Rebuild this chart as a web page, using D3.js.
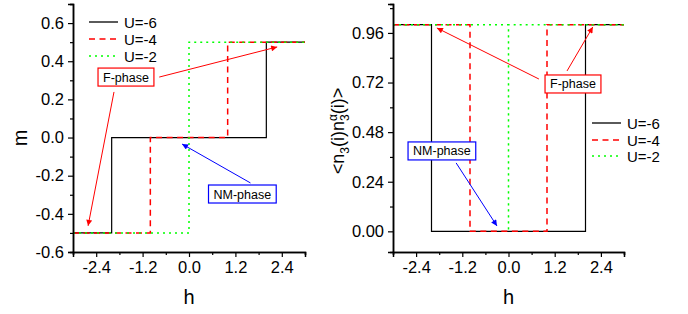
<!DOCTYPE html>
<html>
<head>
<meta charset="utf-8">
<script src="https://cdn.jsdelivr.net/npm/d3@7"></script>
<style>
  body { margin: 0; background: #fff; }
  svg text { font-family: "Liberation Sans", Arial, sans-serif; fill: #000; }
</style>
</head>
<body>
<svg id="chart" width="688" height="314"></svg>
<script>
// data (step curves)
const seriesNames = ["U=-6", "U=-4", "U=-2"];
const mHU6 = [[-3, -0.5], [-2, -0.5], [-2, 0], [2, 0], [2, 0.5], [3, 0.5]];
const mHU4 = [[-3, -0.5], [-1, -0.5], [-1, 0], [1, 0], [1, 0.5], [3, 0.5]];
const mHU2 = [[-3, -0.5], [0, -0.5], [0, 0.5], [3, 0.5]];
const nnU6 = [[-3, 1], [-2, 1], [-2, 0], [2, 0], [2, 1], [3, 1]];
const nnU4 = [[-3, 1], [-1, 1], [-1, 0], [1, 0], [1, 1], [3, 1]];
const nnU2 = [[-3, 1], [0, 1], [0, 0], [0, 1], [3, 1]];

// tick labels
const xTicks = [-2.4, -1.2, 0.0, 1.2, 2.4];
const xMinor = [-3.0, -1.8, -0.6, 0.6, 1.8, 3.0];
const mTicks = [-0.6, -0.4, -0.2, 0.0, 0.2, 0.4, 0.6];
const mMinor = [-0.5, -0.3, -0.1, 0.1, 0.3, 0.5, 0.7];
const nnTicks = [0.00, 0.24, 0.48, 0.72, 0.96];
const nnMinor = [0.12, 0.36, 0.60, 0.84, 1.08];

// annotations: label, box center [h, y], arrows [[h0,y0,h1,y1]...]
const leftNotes = [
  {label: "F-phase", color: "#ff0000", at: [-1.63, 0.317],
   arrows: [[-0.77, 0.317, 2.28, 0.475], [-1.94, 0.239, -2.61, -0.463]]},
  {label: "NM-phase", color: "#0000ff", at: [1.38, -0.296],
   arrows: [[1.59, -0.238, -0.18, -0.034]]}
];
const rightNotes = [
  {label: "F-phase", color: "#ff0000", at: [1.675, 0.713],
   arrows: [[0.79, 0.737, -1.86, 0.984], [1.52, 0.776, 2.19, 0.989]]},
  {label: "NM-phase", color: "#0000ff", at: [-1.73, 0.389],
   arrows: [[-1.36, 0.331, -0.30, 0.026]]}
];

const styles = [
  {color: "#000000", dash: null},
  {color: "#ff0000", dash: "6,4.5"},
  {color: "#00ff00", dash: "2,4"}
];

const svg = d3.select("#chart");

// arrowhead markers
const defs = svg.append("defs");
[["arrRed", "#ff0000"], ["arrBlue", "#0000ff"]].forEach(function(m) {
  defs.append("marker")
    .attr("id", m[0])
    .attr("viewBox", "0 0 10 10")
    .attr("refX", 10).attr("refY", 5)
    .attr("markerWidth", 8).attr("markerHeight", 6)
    .attr("markerUnits", "userSpaceOnUse")
    .attr("orient", "auto")
    .append("path").attr("d", "M0,0 L10,5 L0,10 Z").attr("fill", m[1]);
});

const drawPanel = (opt) => {
  const x = d3.scaleLinear().domain([-3, 3]).range([opt.left, opt.right]);
  const y = d3.scaleLinear().domain(opt.yDomain).range([252, 4]);
  const g = svg.append("g");

  // data lines
  const line = d3.line().x(d => x(d[0])).y(d => y(d[1]));
  opt.series.forEach(function(s, i) {
    g.append("path")
      .datum(s)
      .attr("d", line)
      .attr("fill", "none")
      .attr("stroke", styles[i].color)
      .attr("stroke-width", i === 0 ? 1.2 : 1.5)
      .attr("stroke-dasharray", styles[i].dash);
  });

  // axes
  const xAxis = g.append("g")
    .attr("transform", "translate(0,252)")
    .call(d3.axisBottom(x).tickValues(xTicks).tickSizeOuter(0).tickSize(5).tickPadding(4)
      .tickFormat(d3.format(".1f")));
  g.append("g")
    .attr("transform", "translate(0,252)")
    .call(d3.axisBottom(x).tickValues(xMinor).tickSizeOuter(0).tickSize(3).tickFormat(""));
  const yAxis = g.append("g")
    .attr("transform", "translate(" + opt.left + ",0)")
    .call(d3.axisLeft(y).tickValues(opt.yTicks).tickSizeOuter(0).tickSize(5).tickPadding(4)
      .tickFormat(d3.format(opt.yFormat)));
  g.append("g")
    .attr("transform", "translate(" + opt.left + ",0)")
    .call(d3.axisLeft(y).tickValues(opt.yMinor).tickSizeOuter(0).tickSize(3).tickFormat(""));
  g.selectAll(".domain").attr("stroke", "#000").attr("stroke-width", 1.5);
  g.selectAll(".tick line").attr("stroke", "#000").attr("stroke-width", 1.2);
  xAxis.selectAll("text").style("font-size", "16.5px").attr("fill", "#000");
  yAxis.selectAll("text").style("font-size", "16.5px").attr("fill", "#000");
  // negative sign as a plain hyphen like the original
  g.selectAll(".tick text").text(function() { return d3.select(this).text().replace("−", "-"); });

  // x label
  g.append("text")
    .attr("x", (opt.left + opt.right) / 2).attr("y", 304)
    .attr("text-anchor", "middle")
    .style("font-size", "20px")
    .text("h");

  // legend
  opt.legendRows.forEach(function(ly, i) {
    g.append("line")
      .attr("x1", opt.legendX).attr("x2", opt.legendX + 29)
      .attr("y1", ly).attr("y2", ly)
      .attr("stroke", styles[i].color)
      .attr("stroke-width", i === 0 ? 1.3 : 1.5)
      .attr("stroke-dasharray", styles[i].dash);
    g.append("text")
      .attr("x", opt.legendX + 35).attr("y", ly + 5.5)
      .style("font-size", "15px")
      .text(seriesNames[i]);
  });

  // annotations
  opt.notes.forEach(function(n) {
    const cx = x(n.at[0]), cy = y(n.at[1]);
    const marker = n.color === "#ff0000" ? "url(#arrRed)" : "url(#arrBlue)";
    n.arrows.forEach(function(a) {
      g.append("line")
        .attr("x1", x(a[0])).attr("y1", y(a[1]))
        .attr("x2", x(a[2])).attr("y2", y(a[3]))
        .attr("stroke", n.color).attr("stroke-width", 1)
        .attr("marker-end", marker);
    });
    const box = g.append("rect");
    const t = g.append("text")
      .attr("x", cx).attr("y", cy + 4.5)
      .attr("text-anchor", "middle")
      .style("font-size", "12.5px")
      .text(n.label);
    const bb = t.node().getBBox();
    box.attr("x", cx - bb.width / 2 - 5).attr("y", cy - 9)
      .attr("width", bb.width + 10).attr("height", 18)
      .attr("fill", "#fff")
      .attr("stroke", n.color).attr("stroke-width", 1.2);
  });
  return g;
};

drawPanel({
  left: 73, right: 305, yDomain: [-0.6, 0.7],
  yTicks: mTicks, yMinor: mMinor, yFormat: ".1f",
  series: [mHU6, mHU4, mHU2],
  legendX: 89, legendRows: [22, 39, 56],
  notes: leftNotes
});

drawPanel({
  left: 393, right: 624, yDomain: [-0.1, 1.1],
  yTicks: nnTicks, yMinor: nnMinor, yFormat: ".2f",
  series: [nnU6, nnU4, nnU2],
  legendX: 592, legendRows: [123, 140, 156],
  notes: rightNotes
});

// y labels
svg.append("text")
  .attr("transform", "translate(27,138) rotate(-90)")
  .attr("text-anchor", "middle")
  .style("font-size", "20px")
  .text("m");

const yl = svg.append("text")
  .attr("transform", "translate(344,131) rotate(-90)")
  .attr("text-anchor", "middle")
  .style("font-size", "18px");
yl.append("tspan").text("<n");
yl.append("tspan").attr("dy", 5).style("font-size", "12px").text("3");
yl.append("tspan").attr("dy", -5).text("(i)n");
yl.append("tspan").attr("dy", -7).style("font-size", "12px").text("α");
yl.append("tspan").attr("dx", -7).attr("dy", 12).style("font-size", "12px").text("3");
yl.append("tspan").attr("dy", -5).text("(i)>");
</script>
</body>
</html>
